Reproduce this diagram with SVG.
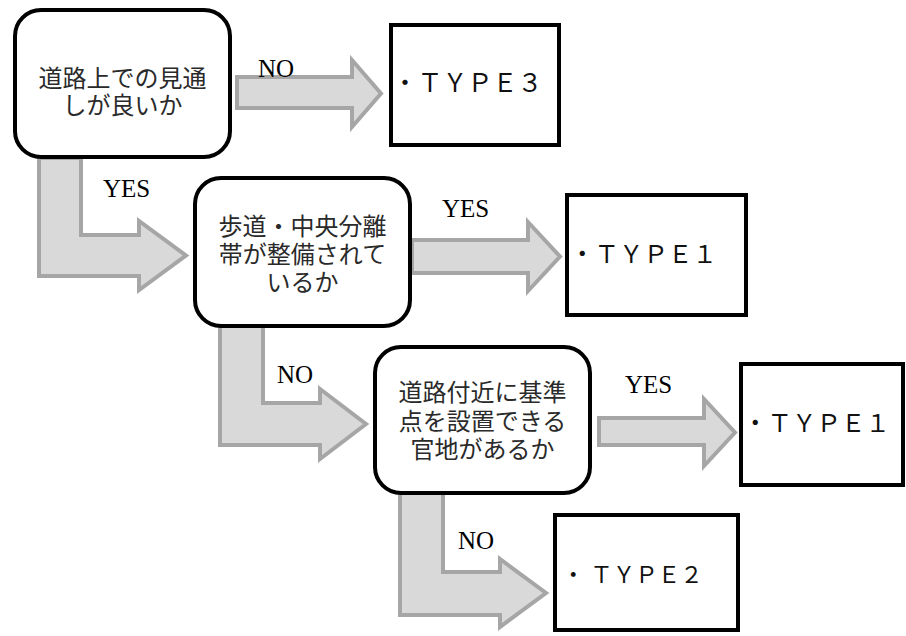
<svg xmlns="http://www.w3.org/2000/svg" width="906" height="636" viewBox="0 0 906 636">
  <style>
    .flow { fill: #d9d9d9; stroke: #a6a6a6; stroke-width: 4; stroke-linejoin: miter; }
    .label { font-family: "Liberation Serif", "Times New Roman", serif; font-size: 25px; fill: #000; }
    .q { fill: #fff; stroke: #000; stroke-width: 4; }
    .res { fill: #fff; stroke: #000; stroke-width: 4; }
    .qt { font-family: "Noto Sans CJK JP", sans-serif; font-size: 24px; fill: #2a2a2a; text-anchor: middle; }
    .rt { font-family: "Liberation Serif", "Noto Sans CJK JP", sans-serif; font-size: 24.5px; fill: #111; }
  </style>
  <rect width="906" height="636" fill="#fff"/>

  <!-- block arrows with their branch labels -->
  <g id="connectors">
    <polygon class="flow" points="237,77 352,77 352,60 381,93.5 352,127 352,108 237,108"/>
    <text class="label" x="258" y="77">NO</text>

    <polygon class="flow" points="39,158 81,158 81,235 139,235 139,221 186,255.5 139,290 139,276 39,276"/>
    <text class="label" x="103" y="197">YES</text>

    <polygon class="flow" points="412,240 528,240 528,222 560,256.5 528,291 528,273 412,273"/>
    <text class="label" x="442" y="217">YES</text>

    <polygon class="flow" points="220,324 263,324 263,403 320,403 320,389 366,424 320,459 320,445 220,445"/>
    <text class="label" x="277" y="383">NO</text>

    <polygon class="flow" points="599,418 704,418 704,399 735,432.5 704,466 704,445 599,445"/>
    <text class="label" x="625" y="393">YES</text>

    <polygon class="flow" points="400,491 443,491 443,572 500,572 500,559 546,593 500,627 500,615 400,615"/>
    <text class="label" x="458" y="549">NO</text>
  </g>

  <!-- decision nodes -->
  <g id="q-visibility">
    <rect class="q" x="15" y="10" width="215" height="147" rx="26"/>
    <text class="qt" x="122.5" y="87">道路上での見通<tspan x="122.5" dy="27">しが良いか</tspan></text>
  </g>

  <g id="q-sidewalk">
    <rect class="q" x="195" y="178" width="215" height="148" rx="26"/>
    <text class="qt" x="302.5" y="235">歩道・中央分離<tspan x="302.5" dy="28">帯が整備されて</tspan><tspan x="302.5" dy="28">いるか</tspan></text>
  </g>

  <g id="q-land">
    <rect class="q" x="375" y="347" width="215" height="146" rx="26"/>
    <text class="qt" x="482.5" y="401">道路付近に基準<tspan x="482.5" dy="29">点を設置できる</tspan><tspan x="482.5" dy="28">官地があるか</tspan></text>
  </g>

  <!-- result nodes -->
  <g id="type3">
    <rect class="res" x="391" y="25" width="168" height="120"/>
    <text class="rt" x="392.5" y="92" style="font-size:25px">・ＴＹＰＥ３</text>
  </g>

  <g id="type1-a">
    <rect class="res" x="567" y="195" width="179" height="120"/>
    <text class="rt" x="570" y="263">・ＴＹＰＥ１</text>
  </g>

  <g id="type1-b">
    <rect class="res" x="741" y="364" width="162" height="121"/>
    <text class="rt" x="743" y="432">・ＴＹＰＥ１</text>
  </g>

  <g id="type2">
    <rect class="res" x="555" y="515" width="183" height="115"/>
    <text class="rt" x="562" y="583" style="font-size:22.5px">・ ＴＹＰＥ２</text>
  </g>
</svg>
